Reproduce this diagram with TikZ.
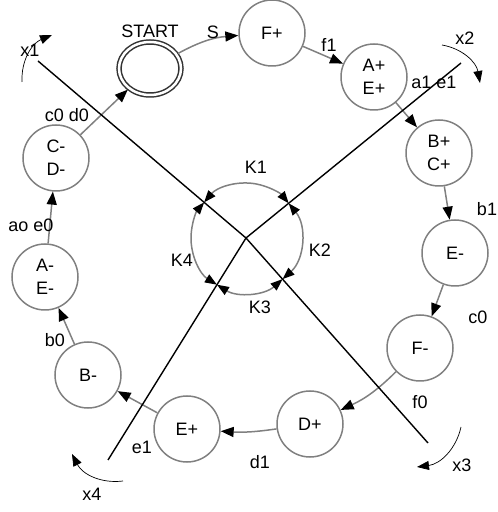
\documentclass[tikz,border=0pt]{standalone}
\usepackage{fontspec}
\setmainfont{Liberation Sans}
\usetikzlibrary{arrows.meta,calc,shapes.geometric}

\begin{document}
\begin{tikzpicture}[x=1pt, y=1pt, font=\fontsize{18}{23}\selectfont,
  state/.style={circle, draw=black!50, line width=1.5pt, minimum size=66pt, inner sep=0pt, align=center},
  trans/.style={draw=black!50, line width=1.5pt, -{Triangle[length=13pt,width=10pt,black]}},
  karc/.style={draw=black!50, line width=1.5pt, {Triangle[length=12pt,width=9pt,black]}-{Triangle[length=12pt,width=9pt,black]}},
  cut/.style={black, line width=1.4pt},
  turn/.style={black, line width=0.7pt, -{Triangle[length=12pt,width=9pt]}, bend left=35}]
  \useasboundingbox (0,0) rectangle (498,512);
  \def\R{55}
  % states around the ring
  \node[ellipse, draw=black!80, double, double distance=2.5pt, line width=1.5pt, minimum width=62pt, minimum height=53pt, inner sep=0pt, outer sep=2pt] (start) at (150,443.5) {};
  \node (startlbl) at (150,481) {START};
  \node[state] (fp) at (272,479) {F+};
  \node[state] (aepos) at (374,435) {A+\\E+};
  \node[state] (bcpos) at (439,359) {B+\\C+};
  \node[state] (eneg) at (455,259) {E-};
  \node[state] (fneg) at (420,164) {F-};
  \node[state] (dpos) at (310,88) {D+};
  \node[state] (epos) at (187,83) {E+};
  \node[state] (bneg) at (88,137) {B-};
  \node[state] (aeneg) at (45,235) {A-\\E-};
  \node[state] (cdneg) at (56,354) {C-\\D-};
  % transitions
  \draw[trans] (start) to[bend left=12] (fp);
  \draw[trans] (fp) -- (aepos);
  \draw[trans] (aepos) -- (bcpos);
  \draw[trans] (bcpos) -- (eneg);
  \draw[trans] (eneg) -- (fneg);
  \draw[trans] (fneg) to[bend left=10] (dpos);
  \draw[trans] (dpos) to[bend left=6] (epos);
  \draw[trans] (epos) -- (bneg);
  \draw[trans] (bneg) -- (aeneg);
  \draw[trans] (aeneg) -- (cdneg);
  \draw[trans] (cdneg) -- (start);
  \node (ls) at (213,480) {S};
  \node (lf1) at (329,467) {f1};
  \node (la1) at (434,430) {a1 e1};
  \node (lb1) at (487,303) {b1};
  \node (lc0) at (478,195) {c0};
  \node (lf0) at (420,110) {f0};
  \node (ld1) at (260,50) {d1};
  \node (le1) at (142,65) {e1};
  \node (lb0) at (55,172) {b0};
  \node (lao) at (31,287) {ao e0};
  \node (lc0d0) at (67,397) {c0 d0};
  % cross and inner ring
  \coordinate (ctr) at (246,274);
  \coordinate (x1end) at (38,451);
  \coordinate (x2end) at (461,449);
  \coordinate (x3end) at (428,69);
  \coordinate (x4end) at (108,52);
  \foreach \e in {x1end,x2end,x3end,x4end}
    \draw[cut] (ctr) -- (\e);
  \foreach \a/\b in {139.6/39.1, 39.1/-48.4, -48.4/-121.9, 238.1/139.6}
    \draw[karc] ($(ctr)+(\a:\R)$) arc[start angle=\a, end angle=\b, radius=\R];
  \node (k1) at (256,345) {K1};
  \node (k2) at (320,262) {K2};
  \node (k3) at (260,205) {K3};
  \node (k4) at (182,252) {K4};
  % turning arrows at the line ends
  \coordinate (t1a) at (22,430);  \coordinate (t1b) at (52,477);
  \coordinate (t2a) at (442,467); \coordinate (t2b) at (480,429);
  \coordinate (t3a) at (461,85);  \coordinate (t3b) at (417,45);
  \coordinate (t4a) at (123,31);  \coordinate (t4b) at (72,58);
  \foreach \i in {1,...,4}
    \draw[turn] (t\i a) to (t\i b);
  \node (x1) at (30,462) {x1};
  \node (x2) at (465,474) {x2};
  \node (x3) at (462,47) {x3};
  \node (x4) at (92,18) {x4};
\end{tikzpicture}
\end{document}
